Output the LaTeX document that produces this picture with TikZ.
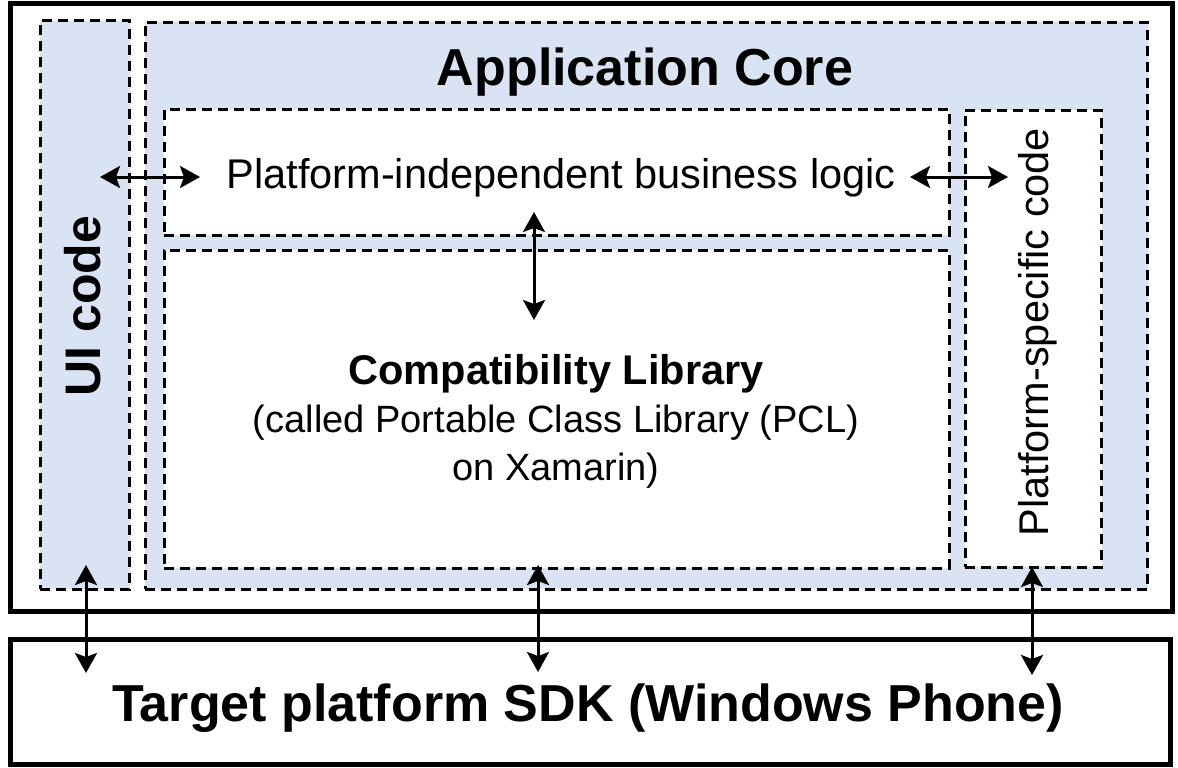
\documentclass[tikz,border=0pt]{standalone}
\usepackage{fontspec}
\setmainfont{Liberation Sans}
\usetikzlibrary{arrows.meta,fit}
\definecolor{coreblue}{RGB}{218,227,243}

\begin{document}
\begin{tikzpicture}[x=0.5pt,y=-0.5pt,
    caja/.style={draw, line width=2.5pt, fill=white, inner sep=0pt},
    panel/.style={draw, line width=1.5pt, dash pattern=on 5pt off 3pt, fill=coreblue, inner sep=0pt},
    hueco/.style={panel, fill=white},
    flecha/.style={line width=1.5pt, {Stealth[length=10pt,width=11pt,inset=2pt]}-{Stealth[length=10pt,width=11pt,inset=2pt]}},
    grande/.style={font=\fontsize{26}{30}\selectfont\bfseries},
    normal/.style={font=\fontsize{20.75}{24}\selectfont}]
    \useasboundingbox (0,0) rectangle (1178,767);

    % marco exterior y SDK
    \node[caja, fit={(10.5,3) (1172.5,611)}] (marco) {};
    \node[caja, fit={(10.5,639.5) (1170.5,764.5)}] (sdk) {};

    % paneles azules
    \node[panel, fit={(40,20.5) (129.5,589)}] (ui) {};
    \node[panel, fit={(145,22) (1147.5,589)}] (core) {};

    % cajas blancas
    \node[hueco, fit={(164,109.5) (949,235)}] (logic) {};
    \node[hueco, fit={(164,250) (949,568)}] (compat) {};
    \node[hueco, fit={(965,110) (1101.5,567)}] (specific) {};

    % textos
    \node[grande, anchor=base] (coretitle) at (645,85) {Application Core};
    \node[normal, anchor=base] (logictext) at (561,188) {Platform-independent business logic};
    \node[font=\fontsize{19}{24}\selectfont, anchor=base, align=center] (compattext) at (556,480)
        {{\fontsize{20.75}{24}\selectfont\bfseries Compatibility Library}\\(called Portable Class Library (PCL)\\on Xamarin)};
    \node[font=\fontsize{25}{30}\selectfont\bfseries, rotate=90, anchor=base] (uitext) at (100,306) {UI code};
    \node[normal, rotate=90, anchor=base] (spectext) at (1048,332) {Platform-specific code};
    \node[grande, anchor=base] (sdktext) at (588,721) {Target platform SDK (Windows Phone)};

    % extremos de las flechas
    \coordinate (uiR) at (100,177);
    \coordinate (logicL) at (200,177);
    \coordinate (logicR) at (910,177);
    \coordinate (specL) at (1008,177);
    \coordinate (logicB) at (534,212);
    \coordinate (compatT) at (534,320);
    \coordinate (uiB) at (86,565);
    \coordinate (sdkA) at (86,673);
    \coordinate (compatB) at (538,565);
    \coordinate (sdkB) at (538,672);
    \coordinate (specB) at (1032,567);
    \coordinate (sdkC) at (1032,675);

    % flechas
    \draw[flecha] (uiR) -- (logicL);
    \draw[flecha] (logicR) -- (specL);
    \draw[flecha] (logicB) -- (compatT);
    \draw[flecha] (uiB) -- (sdkA);
    \draw[flecha] (compatB) -- (sdkB);
    \draw[flecha] (specB) -- (sdkC);

\end{tikzpicture}
\end{document}
